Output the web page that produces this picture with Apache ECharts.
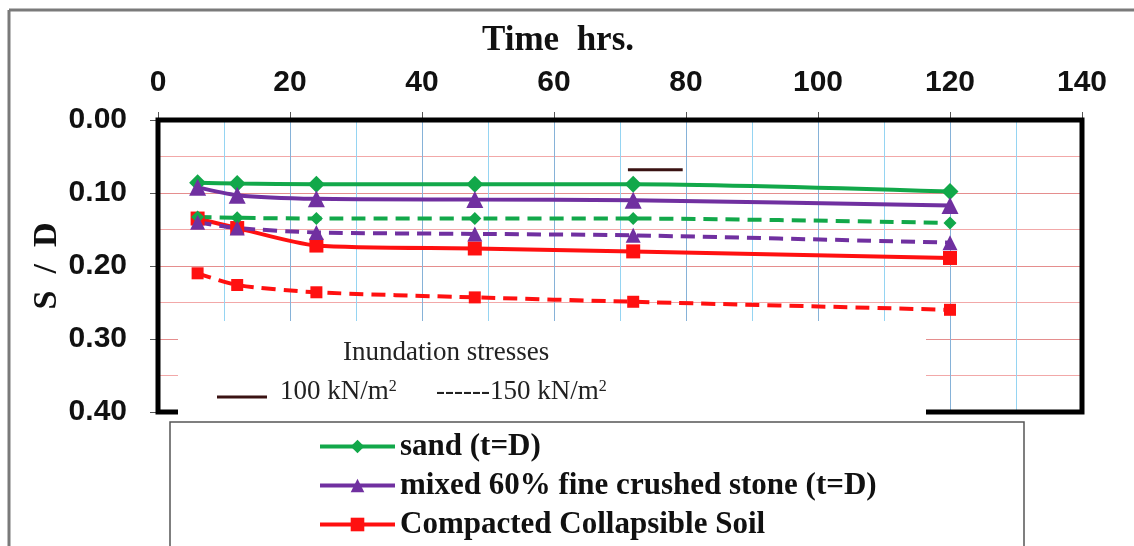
<!DOCTYPE html>
<html>
<head>
<meta charset="utf-8">
<script src="https://cdn.jsdelivr.net/npm/echarts@6/dist/echarts.min.js"></script>
<style>
  html, body { margin: 0; padding: 0; background: #fff; }
  #chart { width: 1134px; height: 546px; }
</style>
</head>
<body>
<div id="chart"></div>
<script>
// Elapsed time after inundation (hours)
const timeHrs = [6, 12, 24, 48, 72, 120];

// Settlement ratio S/D under 100 kN/m2
const sand100 = [0.086, 0.087, 0.088, 0.088, 0.088, 0.098];
const mixed100 = [0.092, 0.103, 0.108, 0.109, 0.110, 0.117];
const collapsible100 = [0.135, 0.148, 0.172, 0.176, 0.180, 0.189];

// Settlement ratio S/D under 150 kN/m2
const sand150 = [0.133, 0.134, 0.135, 0.135, 0.135, 0.141];
const mixed150 = [0.140, 0.148, 0.154, 0.156, 0.158, 0.168];
const collapsible150 = [0.210, 0.226, 0.236, 0.243, 0.249, 0.260];

// Short key stroke inside the plot
const keyStrokeX = [71.2, 79.5];
const keyStrokeY = [0.068, 0.068];

const seriesNames = ['sand (t=D)', 'mixed 60% fine crushed stone (t=D)', 'Compacted Collapsible Soil'];
const xTicks = [0, 20, 40, 60, 80, 100, 120, 140];
const yTicks = [0.00, 0.10, 0.20, 0.30, 0.40];

const GREEN = '#12a84a';
const PURPLE = '#7030a0';
const RED = '#ff1010';

const pairs = (xs, ys) => xs.map((x, i) => [x, ys[i]]);

function lineSeries(name, values, color, symbol, size, dashed) {
  return {
    name: name,
    type: 'line',
    data: pairs(timeHrs, values),
    smooth: 0.25,
    symbol: symbol,
    symbolSize: size,
    lineStyle: { color: color, width: 4, type: dashed ? [14, 8] : 'solid' },
    itemStyle: { color: color },
    z: 3
  };
}

const chart = echarts.init(document.getElementById('chart'), null, { renderer: 'canvas' });

// plot box in pixels (kept in sync with grid below)
const PLOT = { left: 158, top: 120, right: 1082, bottom: 412 };

chart.setOption({
  animation: false,
  backgroundColor: '#ffffff',
  grid: {
    left: PLOT.left, right: 1134 - PLOT.right, top: PLOT.top, bottom: 546 - PLOT.bottom,
    show: false
  },
  xAxis: {
    type: 'value',
    position: 'top',
    min: 0, max: 140, interval: 20,
    name: 'Time  hrs.',
    nameLocation: 'middle',
    nameGap: 62,
    nameMoveOverlap: false,
    nameTextStyle: {
      fontFamily: 'Liberation Serif', fontWeight: 'bold', fontSize: 35, color: '#111',
      padding: [0, 124, 0, 0]
    },
    axisLine: { show: false },
    axisTick: { show: true, length: 8, inside: false, lineStyle: { color: '#555', width: 1 } },
    axisLabel: {
      margin: 22,
      fontFamily: 'Liberation Sans', fontWeight: 'bold', fontSize: 30, color: '#111',
      formatter: v => xTicks.includes(v) ? String(v) : ''
    },
    splitLine: { show: true, lineStyle: { color: '#86b2d8', width: 1 } },
    minorTick: { show: false, splitNumber: 2 },
    minorSplitLine: { show: true, lineStyle: { color: '#95d4f2', width: 1 } }
  },
  yAxis: {
    type: 'value',
    inverse: true,
    min: 0, max: 0.4, interval: 0.1,
    name: 'S  /  D',
    nameLocation: 'middle',
    nameGap: 94,
    nameRotate: 90,
    nameMoveOverlap: false,
    nameTextStyle: { fontFamily: 'Liberation Serif', fontWeight: 'bold', fontSize: 34, color: '#111' },
    axisLine: { show: false },
    axisTick: { show: true, length: 8, lineStyle: { color: '#555', width: 1 } },
    axisLabel: {
      margin: 31,
      fontFamily: 'Liberation Sans', fontWeight: 'bold', fontSize: 30, color: '#111',
      padding: [4, 0, 0, 0],
      formatter: v => yTicks.some(t => Math.abs(t - v) < 1e-9) ? v.toFixed(2) : ''
    },
    splitLine: { show: true, lineStyle: { color: '#e58e8e', width: 1 } },
    minorTick: { show: false, splitNumber: 2 },
    minorSplitLine: { show: true, lineStyle: { color: '#f2a8a8', width: 1 } }
  },
  legend: {
    data: seriesNames,
    orient: 'vertical',
    left: 313,
    top: 426,
    height: 300,
    itemWidth: 75,
    itemHeight: 17,
    itemGap: 8,
    lineStyle: { width: 4 },
    textStyle: { fontFamily: 'Liberation Serif', fontWeight: 'bold', fontSize: 31, color: '#111' },
    selectedMode: false,
    z: 20
  },
  series: [
    lineSeries(seriesNames[0], sand100, GREEN, 'diamond', 17, false),
    lineSeries(seriesNames[1], mixed100, PURPLE, 'triangle', 17, false),
    lineSeries(seriesNames[2], collapsible100, RED, 'rect', 14, false),
    lineSeries('sand 150', sand150, GREEN, 'diamond', 13, true),
    lineSeries('mixed 150', mixed150, PURPLE, 'triangle', 15, true),
    lineSeries('collapsible 150', collapsible150, RED, 'rect', 12, true),
    {
      name: 'key stroke',
      type: 'line',
      data: pairs(keyStrokeX, keyStrokeY),
      symbol: 'none',
      lineStyle: { color: '#3a1212', width: 3 },
      z: 3
    }
  ],
  graphic: [
    // outer frame
    { type: 'line', shape: { x1: 9, y1: 10, x2: 1134, y2: 10 }, style: { stroke: '#7a7a7a', lineWidth: 3 }, z: 30 },
    { type: 'line', shape: { x1: 9, y1: 10, x2: 9, y2: 546 }, style: { stroke: '#7a7a7a', lineWidth: 3 }, z: 30 },
    // plot frame
    { type: 'rect', shape: { x: PLOT.left, y: PLOT.top, width: PLOT.right - PLOT.left, height: PLOT.bottom - PLOT.top },
      style: { fill: 'none', stroke: '#000', lineWidth: 5 }, z: 5 },
    // stress annotation panel
    { type: 'rect', shape: { x: 178, y: 321, width: 748, height: 98 }, style: { fill: '#ffffff' }, z: 10 },
    { type: 'text', x: 343, y: 353, style: { text: 'Inundation stresses', font: '27px "Liberation Serif"', fill: '#222', verticalAlign: 'middle' }, z: 11 },
    { type: 'line', shape: { x1: 217, y1: 397, x2: 267, y2: 397 }, style: { stroke: '#3a1212', lineWidth: 3 }, z: 11 },
    { type: 'text', x: 280, y: 392, style: {
        rich: { t: { font: '27px "Liberation Serif"', fill: '#222' }, s: { font: '16px "Liberation Serif"', fill: '#222', padding: [0, 0, 10, 0] } },
        text: '{t|100 kN/m}{s|2}', verticalAlign: 'middle'
      }, z: 11 },
    { type: 'text', x: 436, y: 392, style: {
        rich: { t: { font: '27px "Liberation Serif"', fill: '#222' }, s: { font: '16px "Liberation Serif"', fill: '#222', padding: [0, 0, 10, 0] } },
        text: '{t|------150 kN/m}{s|2}', verticalAlign: 'middle'
      }, z: 11 },
    // legend frame
    { type: 'rect', shape: { x: 170, y: 422, width: 854, height: 140 }, style: { fill: '#ffffff', stroke: '#555', lineWidth: 1.5 }, z: 12 }
  ]
});
</script>
</body>
</html>
